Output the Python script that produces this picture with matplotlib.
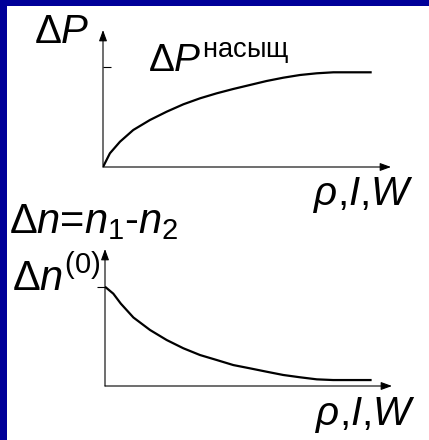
import matplotlib
matplotlib.use("Agg")
import matplotlib.pyplot as plt
from matplotlib.patches import Rectangle

plt.rcParams["font.family"] = ["Liberation Sans", "DejaVu Sans"]
plt.rcParams["mathtext.fontset"] = "custom"
plt.rcParams["mathtext.rm"] = "Liberation Sans"
plt.rcParams["mathtext.it"] = "Liberation Sans:italic"
plt.rcParams["mathtext.bf"] = "Liberation Sans:bold"

# Saturation curve: absorbed power vs rho, I, W (in units of the saturation level)
x_sat = [0.0, 0.24, 0.59, 1.05, 1.63, 2.21, 2.79, 3.37, 3.95, 4.52, 5.10,
         5.68, 6.26, 6.84, 7.42, 8.0, 9.33]
dp_sat = [0.0, 0.137, 0.253, 0.37, 0.47, 0.553, 0.627, 0.687, 0.737, 0.78,
          0.82, 0.86, 0.893, 0.92, 0.937, 0.947, 0.947]
dp_ticks = [1.0]

# Population difference vs rho, I, W (in units of the initial difference)
x_pop = [0.0, 0.29, 0.55, 0.99, 1.57, 2.15, 2.73, 3.31, 3.89, 4.47, 5.05,
         5.63, 6.21, 6.79, 7.38, 7.95, 9.29]
dn_pop = [1.0, 0.93, 0.83, 0.69, 0.564, 0.463, 0.380, 0.312, 0.262, 0.211,
          0.178, 0.144, 0.111, 0.088, 0.067, 0.060, 0.060]
dn_ticks = [1.0]

W, H = 429, 440
fig = plt.figure(figsize=(W / 100, H / 100), dpi=100)
fig.patch.set_facecolor("white")


def arrow_axes(ax, xmax, ymax, tick_dir):
    ax.set_xlim(0, xmax)
    ax.set_ylim(0, ymax)
    for s in ax.spines.values():
        s.set_visible(False)
    ax.set_facecolor("none")
    ax.set_xticks([])
    ax.tick_params(axis="y", direction=tick_dir, length=5.5, width=0.8,
                   labelleft=False, left=True, color="black")
    style = "-|>,head_length=0.55,head_width=0.2"
    for tip in [(1, 0), (0, 1)]:
        ax.annotate("", xy=tip, xytext=(0, 0), xycoords="axes fraction",
                    textcoords="axes fraction",
                    arrowprops=dict(arrowstyle=style, lw=0.8, color="black",
                                    mutation_scale=12, shrinkA=0, shrinkB=0))


ax1 = fig.add_axes([103 / W, 1 - 167 / H, 288 / W, 137 / H])
arrow_axes(ax1, 10, 1.37, "in")
ax1.set_yticks(dp_ticks)
ax1.plot(x_sat, dp_sat, color="black", lw=1.6, solid_capstyle="butt",
         solid_joinstyle="round")

ax2 = fig.add_axes([105 / W, 1 - 386 / H, 287 / W, 137 / H])
arrow_axes(ax2, 10, 1.38, "out")
ax2.set_yticks(dn_ticks)
ax2.plot(x_pop, dn_pop, color="black", lw=1.6, solid_capstyle="butt",
         solid_joinstyle="round")

# Overlay in pixel units for the labels and the frame
ov = fig.add_axes([0, 0, 1, 1], zorder=5)
ov.set_xlim(0, W)
ov.set_ylim(H, 0)
ov.axis("off")
ov.patch.set_visible(False)
ov.add_patch(Rectangle((0, 0), W, 6, color="#000099", lw=0))
ov.add_patch(Rectangle((0, 0), 7, H, color="#000099", lw=0))

kw = dict(ha="left", va="baseline", color="black")
ov.text(34, 43, r"$\Delta P$", fontsize=29, **kw)
ov.text(148, 72, r"$\Delta P^{\mathrm{насыщ}}$", fontsize=28, **kw)
ov.text(313, 205, r"$\rho\text{,}I\text{,}W$", fontsize=29, **kw)
ov.text(9, 233, r"$\Delta n\text{=}n_1\text{-}n_2$", fontsize=30, **kw)
ov.text(12, 291, r"$\Delta n^{(0)}$", fontsize=30, **kw)
ov.text(315, 425, r"$\rho\text{,}I\text{,}W$", fontsize=29, **kw)

fig.savefig("out.png", dpi=100)
